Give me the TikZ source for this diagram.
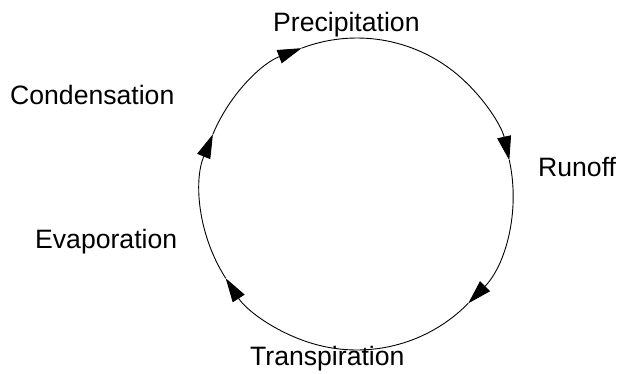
\documentclass[tikz,border=0pt]{standalone}
\usepackage{fontspec}
\setmainfont{Liberation Sans}
\usetikzlibrary{arrows.meta}
\begin{document}
\begin{tikzpicture}[x=1pt,y=1pt,
  lbl/.style={anchor=base west,inner sep=0pt,font=\fontsize{26.6}{30}\selectfont},
  cyc/.style={line width=0.9pt,-{Triangle[length=24pt,width=14pt]}}]
\useasboundingbox (0,0) rectangle (618,373);
\coordinate (c) at (357,179);
\node[lbl] (prec) at (273,341) {Precipitation};
\node[lbl] (cond) at (10,269) {Condensation};
\node[lbl] (evap) at (35,125) {Evaporation};
\node[lbl] (run) at (538,197) {Runoff};
\node[lbl] (trans) at (250,8) {Transpiration};
\coordinate (a5) at ([shift={(157.5:156)}]c);
\coordinate (a1) at ([shift={(110.8:156)}]c);
\coordinate (a2) at ([shift={(12.5:156)}]c);
\coordinate (a3) at ([shift={(-44.5:156)}]c);
\coordinate (a4) at ([shift={(-147.3:156)}]c);
\draw[cyc] (a5) arc[start angle=157.5, end angle=110.8, radius=156pt];
\draw[cyc] (a1) arc[start angle=110.8, end angle=12.5, radius=156pt];
\draw[cyc] (a2) arc[start angle=12.5, end angle=-44.5, radius=156pt];
\draw[cyc] (a3) arc[start angle=-44.5, end angle=-147.3, radius=156pt];
\draw[cyc] (a4) arc[start angle=-147.3, end angle=-202.5, radius=156pt];
\end{tikzpicture}
\end{document}
